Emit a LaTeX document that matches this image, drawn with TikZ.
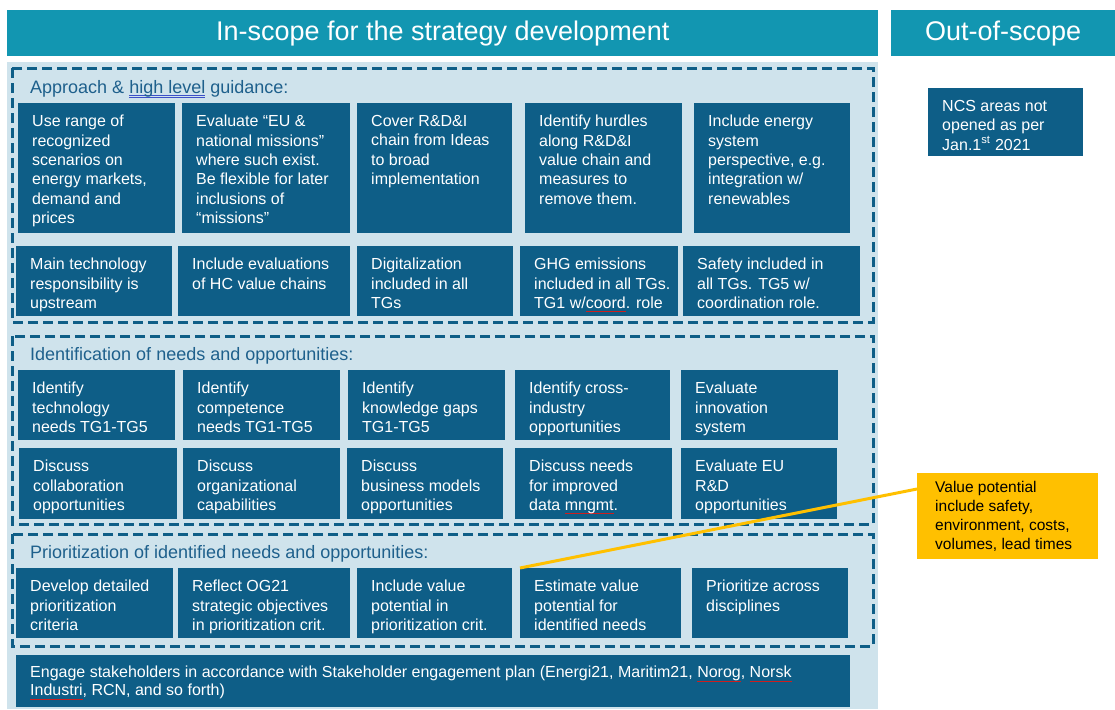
\documentclass[tikz,border=0pt]{standalone}
\usepackage{fontspec}
\setmainfont{Liberation Sans}
\usetikzlibrary{positioning}

\definecolor{scopeteal}{RGB}{18,150,177}
\definecolor{taskblue}{RGB}{14,94,135}
\definecolor{panelblue}{RGB}{207,227,236}
\definecolor{titleblue}{RGB}{30,96,140}
\definecolor{noteyellow}{RGB}{255,192,0}
\definecolor{spellred}{RGB}{205,30,30}
\definecolor{gramblue}{RGB}{60,80,200}

% Unterstreichungen der Rechtschreibpruefung
\newcommand\spellwave[1]{\sbox0{#1}\rlap{\textcolor{spellred}{\rule[-3.5pt]{\wd0}{0.8pt}}}\usebox0}
\newcommand\grammarline[1]{\sbox0{#1}\rlap{\textcolor{gramblue}{\rule[-3pt]{\wd0}{0.7pt}}}\rlap{\textcolor{gramblue}{\rule[-5pt]{\wd0}{0.7pt}}}\usebox0}

\tikzset{
  header/.style={
    fill=scopeteal,
    text=white,
    anchor=north west,
    inner sep=0pt,
    font=\fontsize{27}{30}\selectfont
  },
  task/.style={
    fill=taskblue,
    anchor=north west,
    inner sep=0pt
  },
  tasktext/.style={
    anchor=north west,
    text=white,
    align=left,
    inner sep=0pt,
    font=\fontsize{16}{19.4}\selectfont,
    xshift=14pt,
    yshift=-12pt
  },
  stage/.style={
    draw=taskblue,
    line width=3pt,
    dash pattern=on 10pt off 5pt
  },
  stagetitle/.style={
    anchor=west,
    text=titleblue,
    inner sep=0pt,
    font=\fontsize{18}{20}\selectfont
  },
  note/.style={
    fill=noteyellow,
    anchor=north west,
    inner sep=0pt
  }
}

% name, x, y (top), width, height, text
\newcommand\taskbox[6]{%
  \node[task, minimum width=#4pt, minimum height=#5pt,
    label={[tasktext]north west:{#6}}] (#1) at (#2,#3) {};}

\begin{document}
\begin{tikzpicture}[x=1pt,y=-1pt]
    \useasboundingbox (0,0) rectangle (1115,709);

    % Kopfzeilen
    \node[header, minimum width=871pt, minimum height=46pt] (inscope) at (7,10) {In-scope for the strategy development};
    \node[header, minimum width=224pt, minimum height=46pt] (outscope) at (891,10) {Out-of-scope};

    % Hintergrund
    \fill[panelblue] (7,62) rectangle (878,709);

    % Abschnitt 1
    \draw[stage] (12,68) rectangle (873,322);
    \node[stagetitle] (approach) at (30,89) {Approach \& \grammarline{high level} guidance:};
    \taskbox{a1}{18}{103}{157}{130}{Use range of\\recognized\\scenarios on\\energy markets,\\demand and\\prices}
    \taskbox{a2}{182}{103}{168}{130}{Evaluate “EU \&\\national missions”\\where such exist.\\Be flexible for later\\inclusions of\\“missions”}
    \taskbox{a3}{357}{103}{155}{130}{Cover R\&D\&I\\chain from Ideas\\to broad\\implementation}
    \taskbox{a4}{525}{103}{157}{130}{Identify hurdles\\along R\&D\&I\\value chain and\\measures to\\remove them.}
    \taskbox{a5}{694}{103}{156}{130}{Include energy\\system\\perspective, e.g.\\integration w/\\renewables}
    \taskbox{b1}{16}{246}{156}{70}{Main technology\\responsibility is\\upstream}
    \taskbox{b2}{178}{246}{172}{70}{Include evaluations\\of HC value chains}
    \taskbox{b3}{357}{246}{156}{70}{Digitalization\\included in all\\TGs}
    \taskbox{b4}{520}{246}{158}{70}{GHG emissions\\included in all TGs.\\TG1 w/\spellwave{coord}. role}
    \taskbox{b5}{683}{246}{177}{70}{Safety included in\\all TGs. TG5 w/\\coordination role.}

    % Abschnitt 2
    \draw[stage] (12,336) rectangle (873,524);
    \node[stagetitle] (identify) at (30,356) {Identification of needs and opportunities:};
    \taskbox{c1}{18}{370}{157}{70}{Identify\\technology\\needs TG1-TG5}
    \taskbox{c2}{183}{370}{157}{70}{Identify\\competence\\needs TG1-TG5}
    \taskbox{c3}{348}{370}{157}{70}{Identify\\knowledge gaps\\TG1-TG5}
    \taskbox{c4}{515}{370}{155}{70}{Identify cross-\\industry\\opportunities}
    \taskbox{c5}{681}{370}{157}{70}{Evaluate\\innovation\\system}
    \taskbox{d1}{19}{448}{158}{71}{Discuss\\collaboration\\opportunities}
    \taskbox{d2}{183}{448}{157}{71}{Discuss\\organizational\\capabilities}
    \taskbox{d3}{347}{448}{156}{71}{Discuss\\business models\\opportunities}
    \taskbox{d4}{515}{448}{157}{71}{Discuss needs\\for improved\\data \spellwave{mngmt}.}
    \taskbox{d5}{681}{448}{156}{71}{Evaluate EU\\R\&D\\opportunities}

    % Abschnitt 3
    \draw[stage] (12,534) rectangle (873,646);
    \node[stagetitle] (prioritize) at (30,554) {Prioritization of identified needs and opportunities:};
    \taskbox{e1}{16}{568}{157}{70}{Develop detailed\\prioritization\\criteria}
    \taskbox{e2}{178}{568}{172}{70}{Reflect OG21\\strategic objectives\\in prioritization crit.}
    \taskbox{e3}{357}{568}{155}{70}{Include value\\potential in\\prioritization crit.}
    \taskbox{e4}{520}{568}{161}{70}{Estimate value\\potential for\\identified needs}
    \taskbox{e5}{692}{568}{156}{70}{Prioritize across\\disciplines}

    % Stakeholder
    \node[task, minimum width=834pt, minimum height=52pt,
      label={[tasktext, font=\fontsize{16}{18}\selectfont, yshift=1pt]north west:{Engage stakeholders in accordance with Stakeholder engagement plan (Energi21, Maritim21, \spellwave{Norog}, \spellwave{Norsk}\\\spellwave{Industri}, RCN, and so forth)}}] (engage) at (16,655) {};

    % ausserhalb
    \taskbox{ncs}{928}{88}{155}{68}{NCS areas not\\opened as per\\Jan.1\textsuperscript{st} 2021}

    % Hinweis
    \node[note, minimum width=181pt, minimum height=86pt,
      label={[tasktext, text=black, font=\fontsize{15.5}{19}\selectfont, xshift=4pt, yshift=4pt]north west:{Value potential\\include safety,\\environment, costs,\\volumes, lead times}}] (valuepot) at (917,473) {};
    \draw[noteyellow, line width=3pt] ([yshift=-16pt]valuepot.north west) -- (e4.north west);
\end{tikzpicture}
\end{document}
